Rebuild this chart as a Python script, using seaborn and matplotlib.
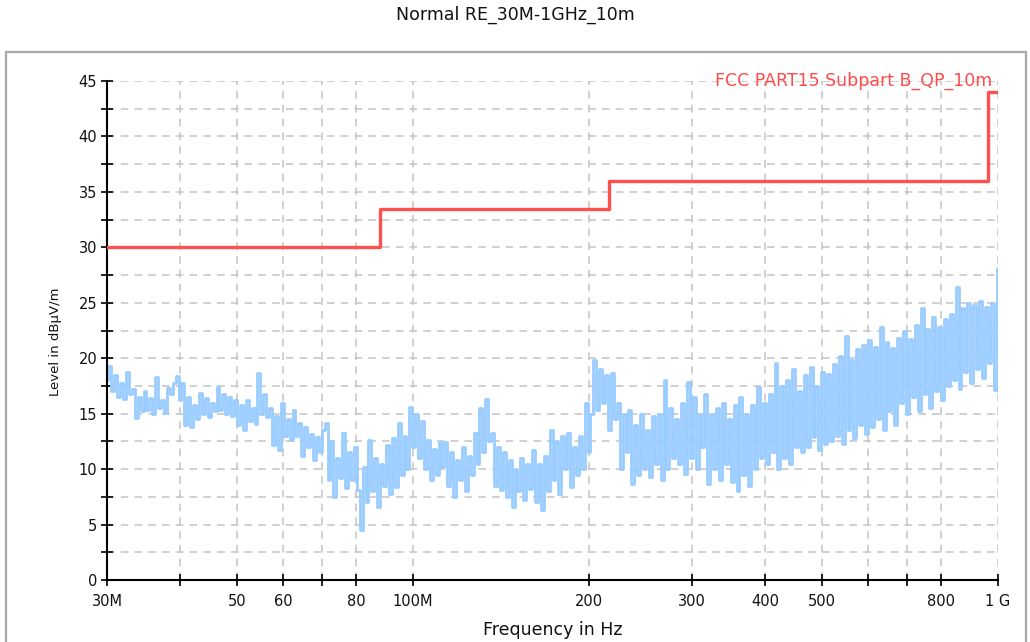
import numpy as np
import pandas as pd
import matplotlib
matplotlib.use("Agg")
import matplotlib.pyplot as plt
import seaborn as sns
from matplotlib.ticker import FixedLocator, FixedFormatter, NullLocator
from matplotlib.patches import Rectangle

# ---------------- data ----------------
title = "Normal RE_30M-1GHz_10m"
limit_name = "FCC PART15 Subpart B_QP_10m"
limit_freq_mhz = [30, 88, 216, 960, 1000]
limit_level = [30.0, 33.5, 36.0, 44.0, 44.0]

level = [
    18.0, 19.3, 17.0, 18.5,
    16.5, 17.8, 16.3, 18.8, 16.8,
    17.2, 14.6, 16.5, 15.2, 17.0,
    15.3, 16.4, 15.0, 18.3, 15.5, 16.2, 15.1,
    17.3, 16.8, 17.8, 18.4,
    16.2, 17.8, 14.0, 16.5, 13.8, 15.8, 14.5,
    16.9, 15.0, 16.4, 14.7, 16.0, 15.2,
    17.4, 15.3, 16.8, 15.0, 16.5, 14.8, 16.2,
    14.0, 15.8, 13.5, 16.2, 14.3, 15.5, 14.1,
    18.7, 15.0, 16.8, 14.7,
    15.5, 12.2, 14.8, 11.7, 16.0, 13.0, 14.5,
    12.6, 15.3, 13.0, 14.2,
    11.2, 13.8, 12.0, 13.2, 10.8, 12.9, 11.5, 13.5,
    14.2, 9.0, 12.5, 7.5, 11.0, 9.2,
    13.3, 8.3, 11.5, 9.0, 12.0, 8.1,
    4.5, 10.2,
    7.0, 12.6, 8.0, 11.0, 6.6, 10.5, 8.5, 12.2, 7.8,
    12.8, 8.4, 14.2, 9.5, 13.0, 10.0, 15.6,
    12.0, 15.0, 11.0, 14.3,
    10.0, 12.6, 9.0, 11.8, 9.5, 12.4, 10.2,
    12.4, 8.5, 11.5, 7.5, 10.8, 9.0, 12.0, 8.0, 11.2, 9.5,
    13.3, 10.5,
    15.5, 11.5, 16.3, 12.5,
    13.3, 8.5, 12.0, 8.1, 11.5,
    7.5, 10.8, 6.6, 10.0, 8.0, 11.0, 7.2, 10.5, 8.2,
    11.7, 7.0, 10.5, 6.3, 11.2, 8.0,
    13.5, 9.0, 12.5, 7.8, 13.0, 10.0,
    13.3, 8.4, 12.0, 9.5, 13.0,
    10.0, 16.0, 11.5, 15.0,
    19.8, 15.3, 19.0, 16.0, 18.5,
    13.5, 18.7, 14.5,
    16.0, 10.0, 15.0, 11.5,
    15.3, 8.7, 14.0, 9.5, 15.0, 10.0, 13.5, 9.3, 14.8, 10.5, 15.0, 9.0,
    18.0, 10.0, 15.5, 11.0, 14.5, 10.5,
    16.0, 9.6, 17.9, 11.0, 16.5, 10.0, 15.0, 12.0,
    16.8, 8.7, 15.0, 10.0, 15.5, 9.0, 16.0, 10.5, 14.5, 8.8, 15.8,
    8.0, 16.5, 9.5, 15.0, 8.5, 15.8,
    10.0, 17.4, 11.0, 16.0, 10.5, 16.8, 11.5,
    19.6, 10.0, 17.5, 11.0, 18.0, 10.5, 19.0, 12.0, 17.0, 11.5, 18.5,
    12.0, 19.2, 12.9, 17.5, 11.7, 18.8, 12.3,
    18.6, 12.5, 19.5, 13.0, 20.2, 12.3, 22.0, 13.5, 19.8, 12.8, 20.8, 14.0, 21.2, 13.2, 21.6, 13.8,
    21.0, 14.5, 22.8, 13.5, 21.5, 15.2, 20.9, 14.0, 21.8, 16.0, 22.5, 15.0, 21.7,
    16.5, 23.0, 15.2, 24.5, 16.8, 22.6, 15.5, 23.7, 17.0, 22.8, 16.2, 23.5,
    17.5, 24.0, 18.0, 26.4, 17.2, 24.5, 18.8, 25.0, 17.8, 24.8, 19.0, 25.2, 18.2, 24.6, 19.6, 25.0, 17.1, 28.1,
]
# sweep grid (log spaced measurement points)
freq_mhz = np.geomspace(30, 1000, len(level))

x_ticks = [30, 40, 50, 60, 70, 80, 100, 200, 300, 400, 500, 600, 700, 800, 1000]
x_labels = ["30M", "", "50", "60", "", "80", "100M", "200", "300", "400", "500", "", "", "800", "1 G"]
y_ticks = [i * 2.5 for i in range(19)]
y_labels = [str(int(v)) if v % 5 == 0 else "" for v in y_ticks]

trace_df = pd.DataFrame({"freq": freq_mhz, "level": level})
limit_df = pd.DataFrame({"freq": limit_freq_mhz, "level": limit_level})

# ---------------- style ----------------
sns.set_theme(style="white")
plt.rcParams["font.family"] = ["DejaVu Sans"]

W, H = 1030, 642
fig = plt.figure(figsize=(W / 100, H / 100), dpi=100)
fig.patch.set_facecolor("white")
ax = fig.add_axes([107 / W, 1 - 580 / H, (998 - 107) / W, (580 - 81) / H])
ax.set_facecolor("white")

sns.lineplot(data=trace_df, x="freq", y="level", ax=ax, color="#99CCFF",
             lw=2.0, estimator=None, drawstyle="steps-mid", zorder=2)
sns.lineplot(data=limit_df, x="freq", y="level", ax=ax, color="#FF5050",
             lw=2.4, estimator=None, drawstyle="steps-post", zorder=3)

ax.set_xscale("log")
ax.set_xlim(30, 1000)
ax.set_ylim(0, 45)
ax.xaxis.set_major_locator(FixedLocator(x_ticks))
ax.xaxis.set_major_formatter(FixedFormatter(x_labels))
ax.xaxis.set_minor_locator(NullLocator())
ax.yaxis.set_major_locator(FixedLocator(y_ticks))
ax.yaxis.set_major_formatter(FixedFormatter(y_labels))
ax.yaxis.set_minor_locator(NullLocator())

ax.grid(True, color="#C4C4C4", linestyle=(0, (5, 4)), lw=1.1, zorder=0)
ax.set_axisbelow(True)
for s in ["top", "right"]:
    ax.spines[s].set_visible(False)
for s in ["left", "bottom"]:
    ax.spines[s].set_color("black")
    ax.spines[s].set_linewidth(1.5)
ax.tick_params(axis="both", which="major", direction="inout", length=8,
               width=1.2, color="black", labelsize=10.5, labelcolor="#111111",
               bottom=True, left=True, top=False, right=False)
ax.tick_params(axis="x", pad=6)
ax.tick_params(axis="y", pad=3)
ax.set_xlabel("")
ax.set_ylabel("")

ax.text((992 - 107) / 891, 1.0, limit_name, transform=ax.transAxes,
        ha="right", va="center", color="#FF4A4A", fontsize=12.5, zorder=4)

fig.text(515 / W, 1 - 15 / H, title, ha="center", va="center", fontsize=12.5, color="#111111")
fig.text(553 / W, 1 - 630 / H, "Frequency in Hz", ha="center", va="center",
         fontsize=12.5, color="#111111")
fig.text(55 / W, 1 - 342 / H, "Level in dBµV/m", ha="center", va="center",
         rotation=90, fontsize=9.5, color="#111111")

frame = Rectangle((6 / W, -0.05), 1020 / W, (H - 52) / H + 0.05,
                  transform=fig.transFigure, fill=False, edgecolor="#A8A8A8", lw=1.6)
fig.add_artist(frame)

fig.savefig("out.png", dpi=100)
